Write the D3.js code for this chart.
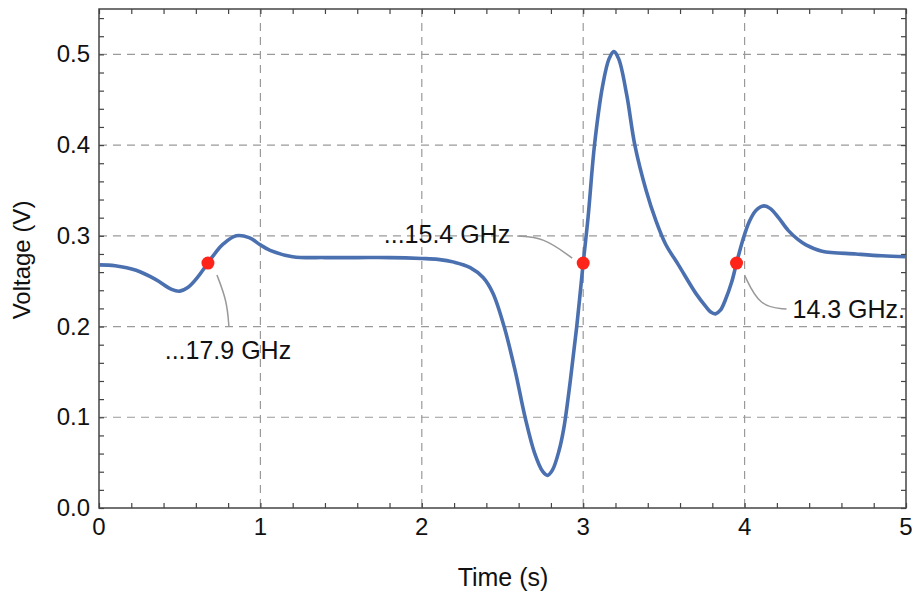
<!DOCTYPE html>
<html><head><meta charset="utf-8">
<script src="https://cdn.jsdelivr.net/npm/d3@7"></script>
<style>body{margin:0;background:#fff;} text{font-family:"Liberation Sans",Arial,Helvetica,sans-serif;}</style>
</head><body><svg id="c" width="912" height="593"></svg>
<script>
const timeS = [0,0.1,0.23,0.35,0.45,0.5,0.55,0.6,0.675,0.72,0.77,0.85,0.93,1.0,1.06,1.2,1.4,1.6,1.8,2.0,2.1,2.2,2.3,2.38,2.44,2.51,2.58,2.64,2.7,2.75,2.78,2.81,2.85,2.88,2.92,2.96,3.0,3.03,3.07,3.12,3.16,3.19,3.22,3.27,3.32,3.39,3.45,3.51,3.59,3.70,3.76,3.79,3.82,3.85,3.88,3.92,3.95,3.99,4.03,4.07,4.12,4.16,4.21,4.27,4.33,4.38,4.48,4.69,4.85,5.0];
const voltage = [0.268,0.267,0.262,0.252,0.241,0.239,0.243,0.252,0.270,0.281,0.291,0.300,0.298,0.290,0.284,0.277,0.276,0.276,0.276,0.275,0.274,0.271,0.265,0.254,0.237,0.200,0.150,0.100,0.060,0.040,0.036,0.042,0.063,0.088,0.140,0.200,0.270,0.320,0.400,0.465,0.495,0.503,0.495,0.455,0.400,0.350,0.317,0.291,0.268,0.236,0.222,0.216,0.214,0.218,0.229,0.249,0.270,0.296,0.316,0.328,0.333,0.330,0.320,0.306,0.296,0.290,0.283,0.280,0.278,0.277];
const markerT = [0.675,3.0,3.95];
const markerV = [0.27,0.27,0.27];
const labels = ["...17.9 GHz","...15.4 GHz","14.3 GHz."];
const xTicks = [0,1,2,3,4,5];
const yTicks = [0.0,0.1,0.2,0.3,0.4,0.5];

const svg = d3.select("#c");
const L=99,R=906,T=9,B=508;
const x = d3.scaleLinear().domain([0,5]).range([L,R]);
const y = d3.scaleLinear().domain([0,0.55]).range([B,T]);

// grid
const g = svg.append("g");
g.selectAll(".gx").data(xTicks.filter(d=>d>0&&d<5)).enter().append("line")
 .attr("x1",d=>x(d)).attr("x2",d=>x(d)).attr("y1",T).attr("y2",B)
 .attr("stroke","#9a9a9a").attr("stroke-width",1.2).attr("stroke-dasharray","8,6");
g.selectAll(".gy").data(yTicks.filter(d=>d>0)).enter().append("line")
 .attr("x1",L).attr("x2",R).attr("y1",d=>y(d)).attr("y2",d=>y(d))
 .attr("stroke","#9a9a9a").attr("stroke-width",1.2).attr("stroke-dasharray","8,6");

// axes with inward ticks
const minorX = d3.range(0,5.001,0.2);
const minorY = d3.range(0,0.5501,0.02);
function ax(axisFn, scale, vals, size, tr){
  svg.append("g").attr("transform",tr).call(axisFn(scale).tickValues(vals).tickSize(size).tickFormat(""))
   .call(s=>{s.select(".domain").remove(); s.selectAll("line").attr("stroke","#444").attr("stroke-width",1.2);});
}
ax(d3.axisTop, x, minorX, 5, `translate(0,${B})`);
ax(d3.axisBottom, x, minorX, 5, `translate(0,${T})`);
ax(d3.axisRight, y, minorY, 5, `translate(${L},0)`);
ax(d3.axisLeft, y, minorY, 5, `translate(${R},0)`);
svg.append("rect").attr("x",L).attr("y",T).attr("width",R-L).attr("height",B-T)
 .attr("fill","none").attr("stroke","#444").attr("stroke-width",1.5);

// tick labels
svg.selectAll(".xl").data(xTicks).enter().append("text")
 .attr("x",d=>x(d)).attr("y",B+27).attr("text-anchor","middle").attr("font-size",24).attr("fill","#111")
 .text(d=>d3.format("d")(d));
svg.selectAll(".yl").data(yTicks).enter().append("text")
 .attr("x",L-9).attr("y",d=>y(d)+8).attr("text-anchor","end").attr("font-size",24).attr("fill","#111")
 .text(d=>d3.format(".1f")(d));
svg.append("text").attr("x",503).attr("y",586).attr("text-anchor","middle").attr("font-size",25).attr("fill","#111").text("Time (s)");
svg.append("text").attr("transform","translate(30,260) rotate(-90)").attr("text-anchor","middle").attr("font-size",24).attr("fill","#111").text("Voltage (V)");

// curve
const pts = timeS.map((t,i)=>[t,voltage[i]]);
svg.append("path").datum(pts)
 .attr("d",d3.line().x(d=>x(d[0])).y(d=>y(d[1])).curve(d3.curveCatmullRom.alpha(0.5)))
 .attr("fill","none").attr("stroke","#4b70b0").attr("stroke-width",3.6).attr("stroke-linejoin","round");

// callout lines
const callouts = [
  [[x(markerT[0])+9,y(markerV[0])+12],[x(markerT[0])+19,y(markerV[0])+38],[x(markerT[0])+21,y(markerV[0])+64]],
  [[x(markerT[1])-11,y(markerV[1])-5],[x(markerT[1])-40,y(markerV[1])-26],[x(markerT[1])-66,y(markerV[1])-27]],
  [[x(markerT[2])+8,y(markerV[2])+12],[x(markerT[2])+23,y(markerV[2])+44],[x(markerT[2])+50,y(markerV[2])+46]]
];
callouts.forEach(c=>svg.append("path").attr("d",d3.line().curve(d3.curveBasis)(c))
 .attr("fill","none").attr("stroke","#999").attr("stroke-width",1.5));

svg.selectAll(".dot").data(markerT).enter().append("circle")
 .attr("cx",d=>x(d)).attr("cy",(d,i)=>y(markerV[i])).attr("r",6.5).attr("fill","#ff2419");

const lp = [[x(markerT[0])+20,y(markerV[0])+96,"middle"],[x(markerT[1])-73,y(markerV[1])-20,"end"],[x(markerT[2])+56,y(markerV[2])+55,"start"]];
svg.selectAll(".lab").data(labels).enter().append("text")
 .attr("x",(d,i)=>lp[i][0]).attr("y",(d,i)=>lp[i][1]).attr("text-anchor",(d,i)=>lp[i][2])
 .attr("font-size",25).attr("fill","#111").text(d=>d);
</script></body></html>
